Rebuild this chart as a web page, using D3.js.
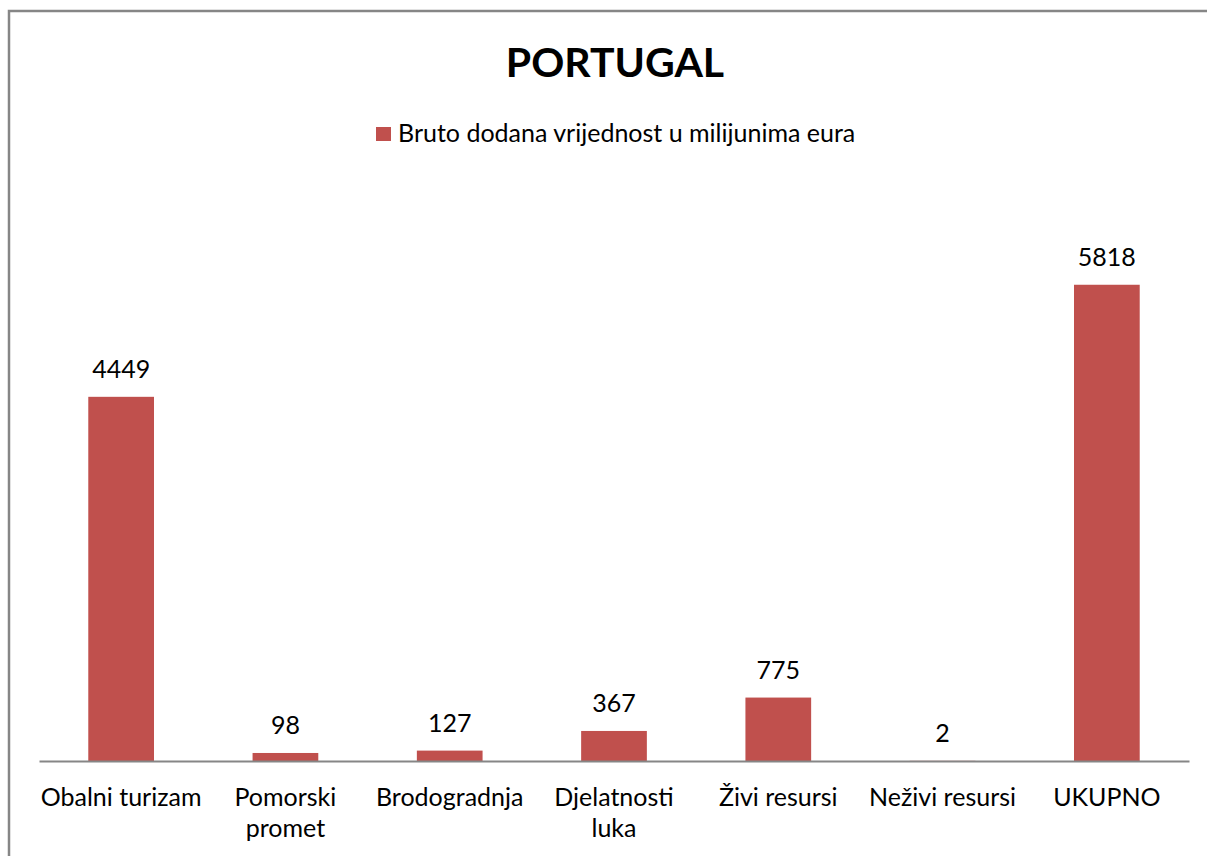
<html>
<head>
<meta charset="utf-8">
<title>Portugal</title>
<script src="https://d3js.org/d3.v7.min.js"></script>
<style>
body { margin:0; background:#fff; }
text { font-family: Lato, "Open Sans", sans-serif; fill:#000; }
</style>
</head>
<body>
<svg id="chart" width="1207" height="856"></svg>
<script>
// data
const categories = ["Obalni turizam", "Pomorski promet", "Brodogradnja", "Djelatnosti luka", "Živi resursi", "Neživi resursi", "UKUPNO"];
const labelLines = [["Obalni turizam"], ["Pomorski", "promet"], ["Brodogradnja"], ["Djelatnosti", "luka"], ["Živi resursi"], ["Neživi resursi"], ["UKUPNO"]];
const values = [4449, 98, 127, 367, 775, 2, 5818];
const seriesName = "Bruto dodana vrijednost u milijunima eura";
const title = "PORTUGAL";

const svg = d3.select("#chart");
const barColor = "#c0504d";

// outer frame (cropped on right/bottom)
svg.append("rect")
    .attr("x", 9).attr("y", 11)
    .attr("width", 1240).attr("height", 900)
    .attr("fill", "none")
    .attr("stroke", "#868686")
    .attr("stroke-width", 2.5);

const x = d3.scaleBand()
    .domain(categories)
    .range([39, 1189])
    .paddingInner(0.6)
    .paddingOuter(0.3);

const y = d3.scaleLinear()
    .domain([0, 7000])
    .range([761, 188]);

// bars
svg.selectAll(".bar")
    .data(values)
    .enter()
    .append("rect")
    .attr("class", "bar")
    .attr("x", function(d, i) { return x(categories[i]); })
    .attr("width", x.bandwidth())
    .attr("y", function(d) { return y(d); })
    .attr("height", function(d) { return y(0) - y(d); })
    .attr("fill", barColor);

// axis line
const axis = svg.append("g")
    .attr("transform", "translate(0," + y(0) + ")")
    .call(d3.axisBottom(x).tickSize(0).tickFormat(""));
axis.select(".domain").attr("stroke", "#868686").attr("stroke-width", 2);

// value labels
svg.selectAll(".val")
    .data(values)
    .enter()
    .append("text")
    .attr("class", "val")
    .attr("x", function(d, i) { return x(categories[i]) + x.bandwidth() / 2; })
    .attr("y", function(d) { return y(d) - 19; })
    .attr("text-anchor", "middle")
    .attr("font-size", 25)
    .text(function(d) { return d; });

// category labels
const cat = svg.selectAll(".cat")
    .data(labelLines)
    .enter()
    .append("text")
    .attr("class", "cat")
    .attr("text-anchor", "middle")
    .attr("font-size", 25)
    .attr("x", function(d, i) { return x(categories[i]) + x.bandwidth() / 2; })
    .attr("y", 806);
cat.selectAll("tspan")
    .data(function(d) { return d; })
    .enter()
    .append("tspan")
    .attr("x", function() { return d3.select(this.parentNode).attr("x"); })
    .attr("dy", function(d, i) { return i === 0 ? 0 : 31; })
    .text(function(d) { return d; });

// title
svg.append("text")
    .attr("x", 615).attr("y", 77)
    .attr("text-anchor", "middle")
    .attr("font-size", 41)
    .attr("font-weight", "bold")
    .attr("font-family", "'Open Sans', sans-serif")
    .text(title);

// legend
svg.append("rect")
    .attr("x", 376).attr("y", 127)
    .attr("width", 15).attr("height", 14)
    .attr("fill", barColor);
svg.append("text")
    .attr("x", 398).attr("y", 142)
    .attr("font-size", 25)
    .text(seriesName);
</script>
</body>
</html>
